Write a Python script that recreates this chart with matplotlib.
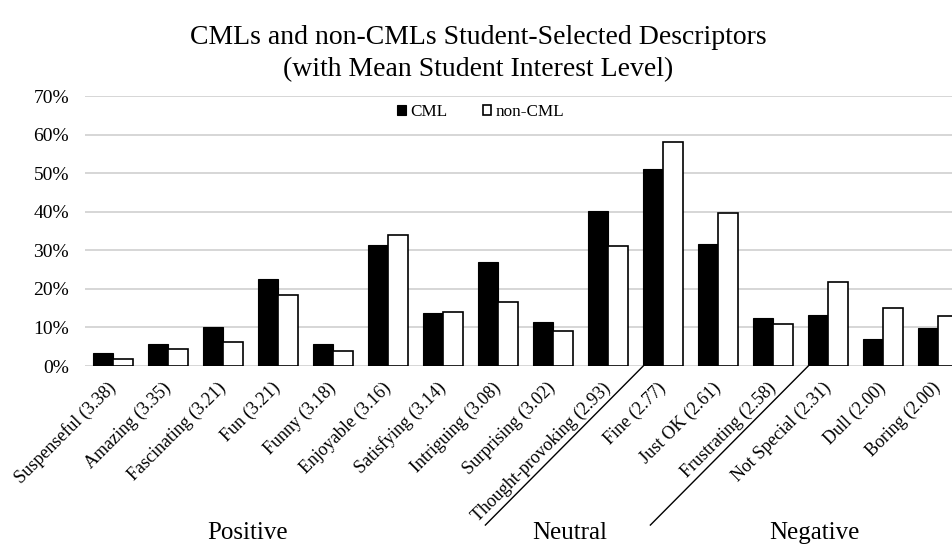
import matplotlib
matplotlib.use('Agg')
import matplotlib.pyplot as plt
import numpy as np
from matplotlib.transforms import blended_transform_factory

descriptors = ['Suspenseful (3.38)', 'Amazing (3.35)', 'Fascinating (3.21)', 'Fun (3.21)',
               'Funny (3.18)', 'Enjoyable (3.16)', 'Satisfying (3.14)', 'Intriguing (3.08)',
               'Surprising (3.02)', 'Thought-provoking (2.93)', 'Fine (2.77)', 'Just OK (2.61)',
               'Frustrating (2.58)', 'Not Special (2.31)', 'Dull (2.00)', 'Boring (2.00)']
cml = [3.5, 5.6, 10.2, 22.5, 5.6, 31.4, 13.7, 27.0, 11.5, 40.1, 51.1, 31.7, 12.4, 13.2, 7.0, 9.9]
non_cml = [1.9, 4.3, 6.2, 18.4, 3.8, 34.0, 14.1, 16.5, 9.1, 31.1, 58.0, 39.8, 11.0, 21.8, 15.0, 13.0]
groups = ['Positive', 'Neutral', 'Negative']
y_ticks = [0, 10, 20, 30, 40, 50, 60, 70]

serif = ['Liberation Serif', 'DejaVu Serif']
plt.rcParams['font.family'] = serif

fig = plt.figure(figsize=(9.53, 5.45), dpi=100)
ax = fig.add_axes([0.0892, 0.3284, 0.9245, 0.4954])

x = np.arange(len(descriptors))
w = 0.36
ax.bar(x - w / 2, cml, w, color='black', edgecolor='black', linewidth=0.8, label='CML', zorder=3)
ax.bar(x + w / 2, non_cml, w, color='white', edgecolor='black', linewidth=1.2, label='non-CML', zorder=3)

ax.set_xlim(-0.51, len(descriptors) - 0.49)
ax.set_ylim(0, 70)
ax.set_yticks(y_ticks)
ax.set_yticklabels([f'{v}%' for v in y_ticks], fontsize=14)
ax.grid(axis='y', color='#d0d0d0', linewidth=1.2, zorder=0)
for s in ax.spines.values():
    s.set_visible(False)
ax.tick_params(axis='y', length=0, pad=11.5)
ax.tick_params(axis='x', length=0, pad=14)
ax.set_xticks(x)
ax.set_xticklabels(descriptors, rotation=45, ha='right', va='center', rotation_mode='anchor',
                   fontsize=13)

ax.set_title('CMLs and non-CMLs Student-Selected Descriptors\n(with Mean Student Interest Level)',
             fontsize=20, linespacing=1.4, pad=14, x=0.446)

leg = ax.legend(loc='center', bbox_to_anchor=(0.449, 0.94), ncol=2, frameon=False,
                fontsize=12.3, handlelength=0.47, handleheight=0.47, columnspacing=2.1,
                handletextpad=0.25, borderaxespad=0, borderpad=0)

# separators between sentiment groups
trans = blended_transform_factory(ax.transData, ax.transAxes)
for start in [10 - w, 13 - w]:
    ax.plot([start, start - 2.87], [0, -0.589], color='black', linewidth=1.0,
            transform=trans, clip_on=False)

group_pos = [2.45, 8.31, 12.76]
for g, gx in zip(groups, group_pos):
    ax.text(gx, -0.619, g, transform=trans, ha='center', va='center', fontsize=18)

fig.savefig('out.png', dpi=100, facecolor='white')
